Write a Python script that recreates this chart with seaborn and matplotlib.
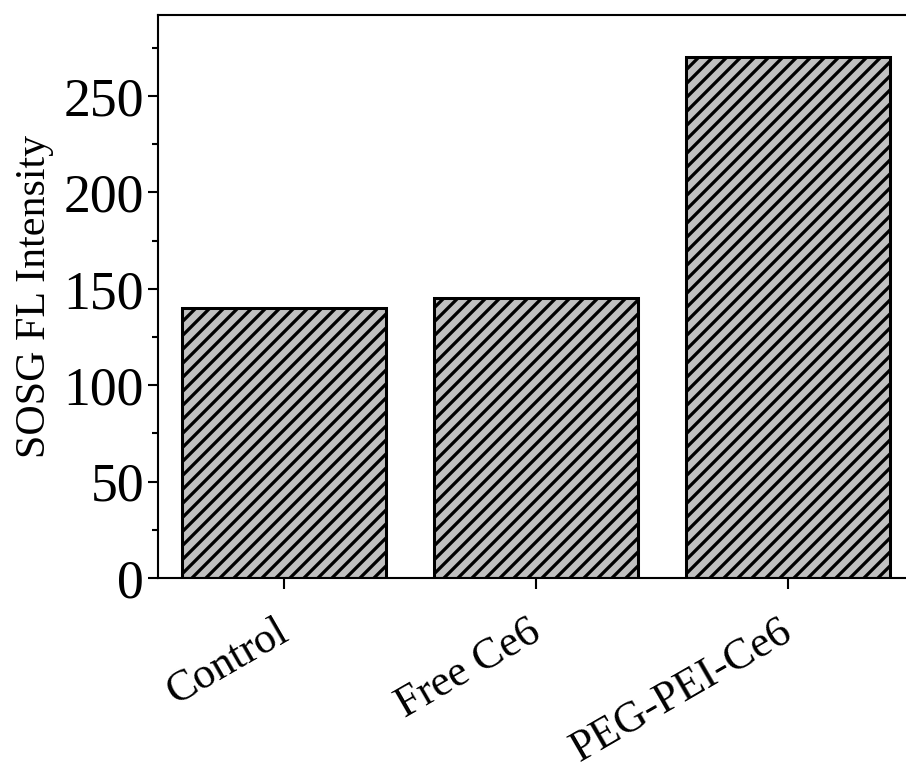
import matplotlib
matplotlib.use("Agg")
import matplotlib.pyplot as plt
import matplotlib.transforms as mtransforms
from matplotlib.ticker import MultipleLocator
import seaborn as sns
import pandas as pd

# Data
groups = ["Control", "Free Ce6", "PEG-PEI-Ce6"]
intensity = [140, 145, 270]
y_ticks = [0, 50, 100, 150, 200, 250]

sns.set_theme(style="ticks")
plt.rcParams["font.family"] = ["Liberation Serif", "DejaVu Serif"]
plt.rcParams["hatch.linewidth"] = 2.8
plt.rcParams["hatch.color"] = "black"
plt.rcParams["text.color"] = "black"
plt.rcParams["axes.labelcolor"] = "black"
plt.rcParams["xtick.color"] = "black"
plt.rcParams["ytick.color"] = "black"
plt.rcParams["xtick.labelcolor"] = "black"
plt.rcParams["ytick.labelcolor"] = "black"

DPI = 84
fig = plt.figure(figsize=(906 / DPI, 767 / DPI), dpi=DPI)
W, H = 906, 767
left, right, top, bottom = 158, 914, 15, 578
ax = fig.add_axes([left / W, (H - bottom) / H, (right - left) / W, (bottom - top) / H])

df = pd.DataFrame({"group": groups, "value": intensity})
sns.barplot(data=df, x="group", y="value", ax=ax, color="#c0c0c0",
            saturation=1, edgecolor="black", linewidth=2.6, width=0.81,
            hatch="//", errorbar=None)

ax.set_xlim(-0.5, 2.5)
ax.set_ylim(0, 292)
ax.set_yticks(y_ticks)
ax.yaxis.set_minor_locator(MultipleLocator(25))
ax.set_xlabel("")
ax.set_ylabel("SOSG FL Intensity", fontsize=36, labelpad=8)

for side in ["left", "bottom", "top", "right"]:
    ax.spines[side].set_linewidth(1.8)
    ax.spines[side].set_color("black")

ax.tick_params(axis="y", which="major", direction="out", length=9, width=1.8,
               labelsize=46, pad=3)
ax.tick_params(axis="y", which="minor", direction="out", length=5, width=1.8)
ax.tick_params(axis="x", which="major", direction="out", length=9, width=1.8,
               labelsize=37.5, pad=10)

offset = mtransforms.ScaledTranslation(-9 / DPI, -11 / DPI, fig.dpi_scale_trans)
for lab in ax.get_xticklabels():
    lab.set_rotation(30)
    lab.set_ha("right")
    lab.set_va("top")
    lab.set_rotation_mode("anchor")
    lab.set_transform(lab.get_transform() + offset)

fig.savefig("out.png", dpi=DPI, facecolor="white")
